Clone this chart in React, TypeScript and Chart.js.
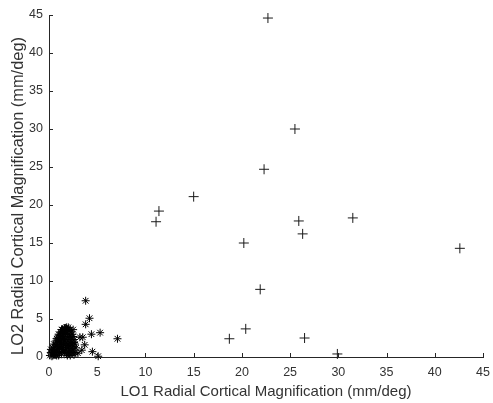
import React, { useEffect, useRef } from "react";
import { Chart, registerables } from "chart.js";

Chart.register(...registerables);

// "+" series (LO1 vs LO2, large values)
const lo1Plus = [22.7, 25.5, 22.3, 15.0, 11.4, 11.1, 25.9, 26.3, 31.5, 42.6, 20.2, 21.9, 20.4, 18.7, 26.5, 29.9];
const lo2Plus = [44.6, 30.0, 24.7, 21.1, 19.2, 17.8, 17.9, 16.2, 18.3, 14.3, 15.0, 8.9, 3.7, 2.4, 2.5, 0.4];

// "*" series (small values cluster)
const lo1Star = [
  0.1, 0.2, 0.3, 0.4, 0.5, 0.5, 0.6, 0.7, 0.7, 0.8, 0.9, 0.9, 1.0, 1.0, 1.1, 1.1, 1.2, 1.2, 1.3, 1.3,
  1.4, 1.4, 1.5, 1.5, 1.6, 1.6, 1.7, 1.7, 1.8, 1.8, 1.9, 1.9, 2.0, 2.0, 2.1, 2.1, 2.2, 2.2, 2.3, 2.3,
  2.4, 2.4, 2.5, 2.5, 2.6, 2.6, 0.2, 0.3, 0.6, 1.0, 2.8, 3.0,
  0.3, 0.4, 0.6, 0.7, 0.8, 0.8, 0.9, 1.0, 1.1, 1.2, 1.2, 1.3, 1.4, 1.4, 1.5, 1.5, 1.6, 1.6, 1.7, 1.7,
  1.8, 1.8, 1.9, 1.9, 2.0, 2.0, 2.1, 2.1, 2.2, 2.2, 2.3, 2.3, 2.4, 2.4, 2.5, 2.6, 2.7, 2.7, 0.5, 0.9,
  1.1, 1.3, 1.7, 2.0,
  3.8, 4.2, 3.8, 4.4, 5.3, 7.1, 3.5, 4.5, 5.1, 3.7, 3.4, 2.5, 3.2,
];
const lo2Star = [
  0.2, 0.6, 0.1, 1.2, 0.4, 1.7, 0.9, 2.1, 0.3, 1.4, 2.5, 0.7, 1.9, 0.2, 2.9, 1.1, 3.3, 2.2, 0.5, 1.6,
  3.6, 2.7, 0.9, 3.1, 3.8, 2.0, 1.3, 3.4, 3.9, 0.4, 2.6, 1.8, 3.5, 0.8, 3.0, 1.5, 2.3, 0.2, 3.3, 1.1,
  2.0, 0.6, 2.7, 1.4, 0.3, 1.9, 1.0, 0.4, 1.3, 2.4, 1.2, 0.5,
  0.8, 0.2, 0.6, 1.6, 0.2, 2.4, 1.0, 3.0, 0.6, 1.4, 2.8, 2.0, 1.0, 3.2, 2.4, 1.7, 0.6, 3.0, 2.3, 0.9,
  1.5, 3.0, 3.6, 0.2, 2.1, 1.2, 2.7, 0.5, 3.6, 1.8, 0.7, 2.6, 1.6, 3.0, 0.9, 2.3, 0.6, 1.7, 1.0, 1.6,
  2.1, 3.6, 3.8, 3.9,
  7.4, 5.1, 4.3, 3.0, 3.2, 2.4, 2.6, 0.7, 0.1, 1.6, 0.9, 3.6, 2.6,
];

const axisTicks = [0, 5, 10, 15, 20, 25, 30, 35, 40, 45];
const xTitle = "LO1 Radial Cortical Magnification (mm/deg)";
const yTitle = "LO2 Radial Cortical Magnification (mm/deg)";

const AXIS_COLOR = "#262626";
const TEXT_COLOR = "#333333";
const FONT = "'Liberation Sans', Arial, sans-serif";

const inwardTicks = {
  id: "inwardTicks",
  afterDatasetsDraw(chart: any) {
    const { ctx, chartArea, scales } = chart;
    ctx.save();
    ctx.strokeStyle = AXIS_COLOR;
    ctx.lineWidth = 1;
    ctx.beginPath();
    for (const v of axisTicks) {
      const px = Math.round(scales.x.getPixelForValue(v)) + 0.5;
      ctx.moveTo(px, chartArea.bottom);
      ctx.lineTo(px, chartArea.bottom - 4);
      const py = Math.round(scales.y.getPixelForValue(v)) + 0.5;
      ctx.moveTo(chartArea.left, py);
      ctx.lineTo(chartArea.left + 4, py);
    }
    ctx.stroke();
    ctx.restore();
  },
};

// y-axis title, drawn a little below the axis centre as in the reference
const yTitlePlugin = {
  id: "yTitlePlugin",
  afterDraw(chart: any) {
    const { ctx, chartArea } = chart;
    ctx.save();
    ctx.translate(18, (chartArea.top + chartArea.bottom) / 2 + 10);
    ctx.rotate(-Math.PI / 2);
    ctx.textAlign = "center";
    ctx.textBaseline = "middle";
    ctx.fillStyle = TEXT_COLOR;
    ctx.font = `16.4px ${FONT}`;
    ctx.fillText(yTitle, 0, 0);
    ctx.restore();
  },
};

export default function App() {
  const ref = useRef<HTMLCanvasElement | null>(null);
  useEffect(() => {
    document.body.style.margin = "0";
    const canvas = ref.current!;
    const chart = new Chart(canvas, {
      type: "scatter",
      data: {
        datasets: [
          {
            data: lo1Plus.map((x, i) => ({ x, y: lo2Plus[i] })),
            pointStyle: "cross",
            pointRadius: 5,
            borderColor: "#1a1a1a",
            backgroundColor: "#1a1a1a",
            borderWidth: 1,
            clip: false,
          },
          {
            data: lo1Star.map((x, i) => ({ x, y: lo2Star[i] })),
            pointStyle: "star",
            pointRadius: 4,
            borderColor: "#000",
            backgroundColor: "#000",
            borderWidth: 1,
            clip: false,
          },
        ],
      },
      options: {
        animation: false,
        responsive: false,
        maintainAspectRatio: false,
        layout: { padding: { left: 0, top: 15, right: 10, bottom: 0 } },
        plugins: { legend: { display: false }, tooltip: { enabled: false } },
        scales: {
          x: {
            type: "linear",
            min: 0,
            max: 45,
            afterFit: (s: any) => { s.height = 46; s.paddingLeft = 0; s.paddingRight = 0; },
            afterBuildTicks: (s: any) => { s.ticks = axisTicks.map((v) => ({ value: v })); },
            grid: { display: true, drawOnChartArea: false, drawTicks: false },
            border: { display: true, color: AXIS_COLOR, width: 1 },
            ticks: { padding: 8, color: TEXT_COLOR, font: { family: FONT, size: 12.5 }, maxRotation: 0 },
            title: { display: true, text: xTitle, color: TEXT_COLOR, font: { family: FONT, size: 15 }, padding: { top: 0, bottom: 2 } },
          },
          y: {
            type: "linear",
            min: 0,
            max: 45,
            afterFit: (s: any) => { s.width = 49; s.paddingTop = 0; s.paddingBottom = 0; },
            afterBuildTicks: (s: any) => { s.ticks = axisTicks.map((v) => ({ value: v })); },
            grid: { display: true, drawOnChartArea: false, drawTicks: false },
            border: { display: true, color: AXIS_COLOR, width: 1 },
            ticks: { padding: 6, color: TEXT_COLOR, font: { family: FONT, size: 12.5 } },
            title: { display: false, text: yTitle },
          },
        },
      },
      plugins: [inwardTicks, yTitlePlugin],
    });
    return () => chart.destroy();
  }, []);
  return <canvas ref={ref} width={493} height={403} style={{ display: "block" }} />;
}
